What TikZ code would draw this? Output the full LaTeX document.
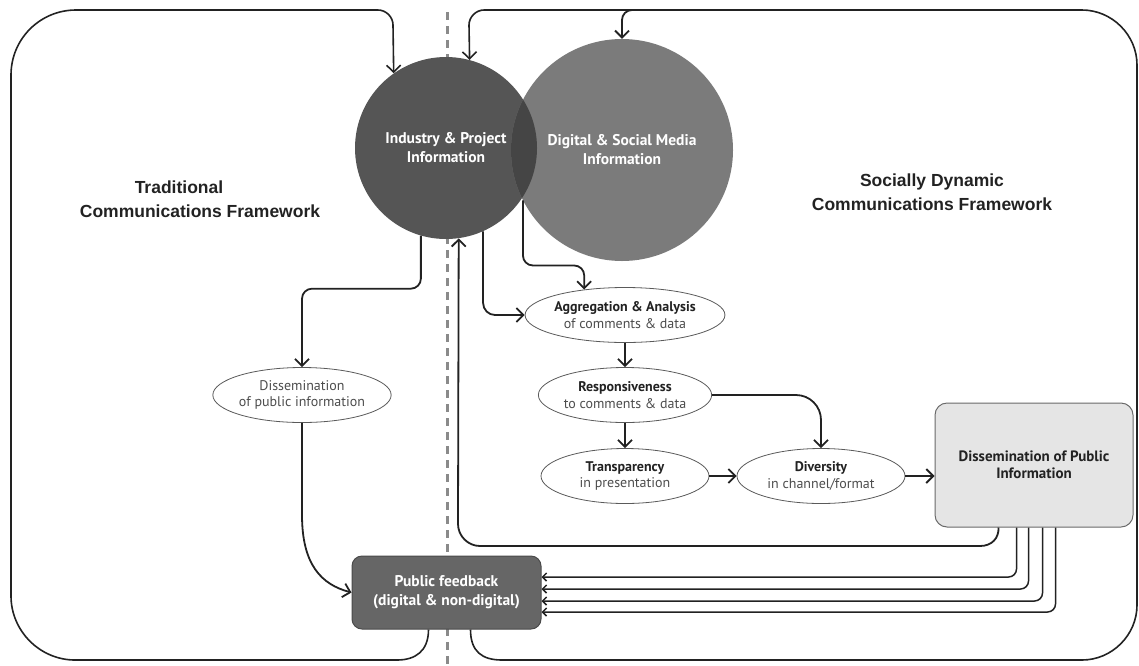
\documentclass[tikz,border=0pt]{standalone}
\usepackage{fontspec}
\setmainfont{PT Sans}
\newfontfamily\titlefont{Liberation Sans}
\usetikzlibrary{arrows.meta,calc,shapes.geometric}
\definecolor{ink}{HTML}{222222}
\definecolor{cone}{HTML}{555555}
\definecolor{ctwo}{HTML}{7B7B7B}
\definecolor{cov}{HTML}{454545}
\definecolor{boxfill}{HTML}{E5E5E5}
\definecolor{boxline}{HTML}{6A6A6A}
\definecolor{fbfill}{HTML}{666666}
\definecolor{fbline}{HTML}{4A4A4A}
\definecolor{ellline}{HTML}{5A5A5A}
\definecolor{subtext}{HTML}{4D4D4D}
\definecolor{dashcol}{HTML}{8A8A8A}
\begin{document}
\begin{tikzpicture}[x=1pt,y=-1pt,
  conn/.style={draw=ink, line width=1.8pt, -{Straight Barb[length=7pt,width=14pt]}},
  frame/.style={draw=ink, line width=1.6pt, -{Straight Barb[length=7pt,width=14pt]}},
  small/.style={draw=ink, line width=1.5pt, rounded corners=8pt, -{Straight Barb[length=4pt,width=8pt]}},
  title/.style={font=\titlefont\bfseries\fontsize{17.5}{24}\selectfont, text=ink, align=center},
  ctext/.style={font=\bfseries\fontsize{15.5}{19}\selectfont, text=white, align=center},
  oval/.style={ellipse, draw=ellline, line width=0.8pt, fill=white, minimum width=168pt, minimum height=55pt, inner sep=0pt, align=center, text=ink, font=\fontsize{14}{16.5}\selectfont},
  dbox/.style={draw=boxline, line width=1pt, fill=boxfill, rounded corners=12pt, minimum width=198pt, minimum height=124pt, align=center, text=ink, font=\bfseries\fontsize{15}{17.5}\selectfont},
  fbox/.style={draw=fbline, line width=1pt, fill=fbfill, rounded corners=10pt, minimum width=189pt, minimum height=73pt, align=center, text=white, font=\bfseries\fontsize{15.5}{19}\selectfont},
  dashline/.style={draw=dashcol, line width=3pt, dash pattern=on 8pt off 6pt}
]
\useasboundingbox (0,0) rectangle (1139,665);

% divider
\coordinate (dtop) at (447,12);
\coordinate (dbot) at (447,665);
\draw[dashline] (dtop) -- (dbot);

% circles
\node[circle, minimum size=182pt, inner sep=0pt, fill=cone] (c1) at (446,148) {};
\node[circle, minimum size=222pt, inner sep=0pt, fill=ctwo] (c2) at (622,150) {};
\begin{scope}
  \clip (c1.center) circle[radius=91pt];
  \fill[cov] (c2.center) circle[radius=111pt];
\end{scope}
\node[ctext] (t1) at (c1.center) {Industry \& Project\\Information};
\node[ctext] (t2) at (c2.center) {Digital \& Social Media\\Information};

% titles
\node[title] (tl) at (200,199) {Traditional\hspace*{42pt}\\Communications Framework};
\node[title] (tr) at (932,192) {Socially Dynamic\\Communications Framework};

% ellipses
\node[oval] (dl) at (302,395) {{\color{subtext}Dissemination}\\{\color{subtext}of public information}};
\node[oval] (agg) at (625,315) {\textbf{Aggregation \& Analysis}\\{\color{subtext}of comments \& data}};
\node[oval] (resp) at (625,395) {\textbf{Responsiveness}\\{\color{subtext}to comments \& data}};
\node[oval] (trans) at (625,476) {\textbf{Transparency}\\{\color{subtext}in presentation}};
\node[oval] (div) at (821,476) {\textbf{Diversity}\\{\color{subtext}in channel/format}};

% boxes
\node[dbox] (box) at (1034,465) {Dissemination of Public\\Information};
\node[fbox] (fb) at (446.5,592.5) {Public feedback\\(digital \& non-digital)};

% connectors from circles
\draw[conn, rounded corners=10pt] (c1.-106.6) -- ++(0,53) -| (dl.north);
\draw[conn, rounded corners=12pt] (c1.-66) |- (agg.west);
\draw[conn, rounded corners=10pt] (c2.-153) -- ++(0,65) -| (agg.148);

% chain
\draw[conn] (agg.south) -- (resp.north);
\draw[conn] (resp.south) -- (trans.north);
\draw[conn, rounded corners=25pt] (resp.east) -| (div.north);
\draw[conn] (trans.east) -- (div.west);
\draw[conn] (div.east) -- (div.east -| box.west);

% return to industry circle
\coordinate (retA) at ($(box.south west)+(64,0)$);
\coordinate (ret) at (458,546);
\draw[conn] (retA) .. controls (999,538) and (992,546) .. (980,546)
  -- (480,546) .. controls (468,546) and (458,536) .. (458,524) -- (c1.-82.4);

% feedback arrows
\draw[small] ($(box.south west)+(82,0)$) |- ($(fb.east)+(0,-15.5)$);
\draw[small] ($(box.south west)+(94,0)$) |- ($(fb.east)+(0,-3.5)$);
\draw[small] ($(box.south west)+(108,0)$) |- ($(fb.east)+(0,8.5)$);
\draw[small] ($(box.south west)+(121,0)$) |- ($(fb.east)+(0,19.5)$);

% traditional dissemination to feedback
\draw[conn] (dl.south) -- ++(0,92) .. controls +(0,50) and +(-30,-8) .. (fb.west);

% frames
\draw[frame] ($(fb.south west)+(77,0)$) .. controls +(0,22) and +(18,0) .. (397,660)
  -- (75,660) .. controls (40,660) and (11,631) .. (11,596)
  -- (11,75) .. controls (11,39) and (40,10) .. (76,10)
  -- (378,10) .. controls (386,10) and (393,17) .. (393,25) -- (c1.125.6);
\draw[frame] ($(fb.south east)+(-71,0)$) .. controls +(0,22) and +(-20,0) .. (502,660)
  -- (1082,660) .. controls (1112,660) and (1137,635) .. (1137,605)
  -- (1137,65) .. controls (1137,35) and (1112,10) .. (1082,10)
  -- (484,10) .. controls (476,10) and (469,17) .. (469,25) -- (c1.75.4);
\coordinate (br) at (645,10);
\draw[conn, rounded corners=10pt] (br) -| (c2.north);
\end{tikzpicture}
\end{document}
